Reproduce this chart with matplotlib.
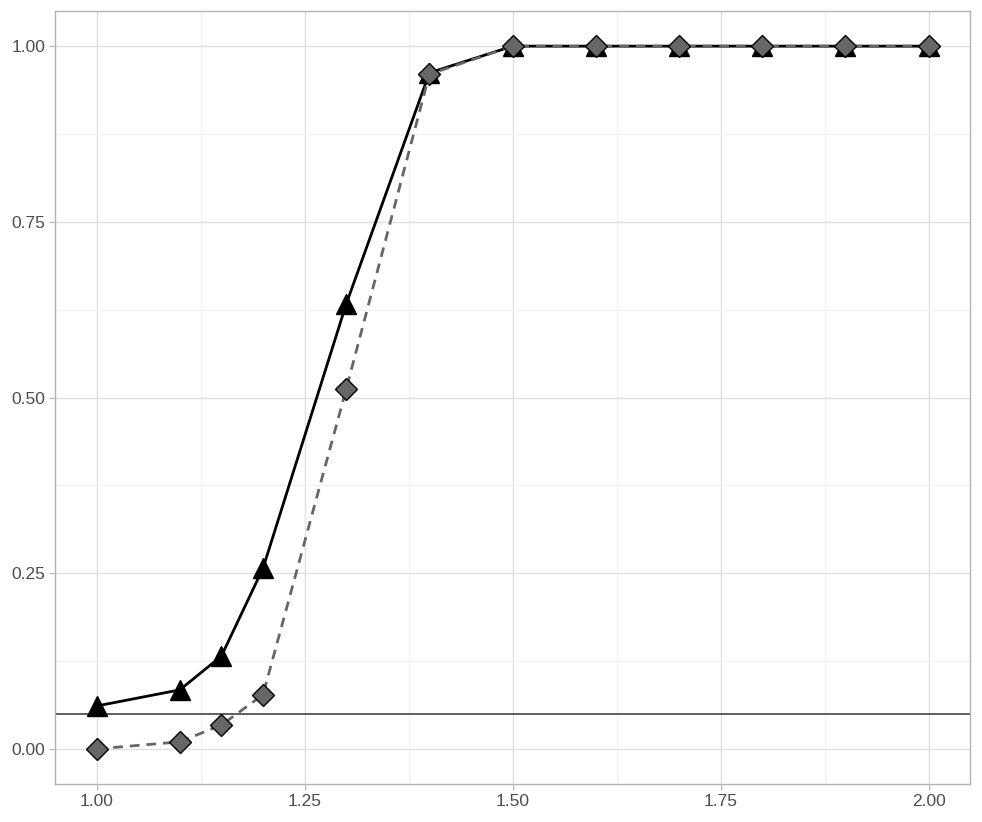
import matplotlib.pyplot as plt
from matplotlib.ticker import MultipleLocator

x = [1.0, 1.1, 1.15, 1.2, 1.3, 1.4, 1.5, 1.6, 1.7, 1.8, 1.9, 2.0]
power_a = [0.061, 0.084, 0.132, 0.257, 0.633, 0.962, 1.0, 1.0, 1.0, 1.0, 1.0, 1.0]
power_b = [0.0, 0.010, 0.034, 0.077, 0.512, 0.960, 1.0, 1.0, 1.0, 1.0, 1.0, 1.0]
alpha_level = 0.05
x_ticks = [1.00, 1.25, 1.50, 1.75, 2.00]
y_ticks = [0.00, 0.25, 0.50, 0.75, 1.00]

plt.rcParams["font.family"] = ["Liberation Sans", "DejaVu Sans"]

fig = plt.figure(figsize=(9.82, 8.22), dpi=100)
ax = fig.add_axes([0.056, 0.0462, 0.932, 0.9404])

ax.set_xlim(0.95, 2.05)
ax.set_ylim(-0.05, 1.05)
ax.set_xticks(x_ticks)
ax.set_yticks(y_ticks)
ax.set_xticklabels([f"{v:.2f}" for v in x_ticks])
ax.set_yticklabels([f"{v:.2f}" for v in y_ticks])
ax.xaxis.set_minor_locator(MultipleLocator(0.125))
ax.yaxis.set_minor_locator(MultipleLocator(0.125))

ax.grid(which="major", color="#e0e0e0", linewidth=1.0, zorder=0)
ax.grid(which="minor", color="#f0f0f0", linewidth=0.7, zorder=0)
ax.set_axisbelow(True)
ax.tick_params(which="major", color="#b3b3b3", length=4, width=0.8, pad=3,
               labelsize=12.5, labelcolor="#4d4d4d")
ax.tick_params(which="minor", length=0)
for s in ax.spines.values():
    s.set_color("#b3b3b3")
    s.set_linewidth(1.0)

ax.axhline(alpha_level, color="#333333", linewidth=1.1, zorder=2)

ax.plot(x, power_a, color="black", linewidth=2, marker="^", markersize=14,
        markerfacecolor="black", markeredgecolor="black", zorder=3)
ax.plot(x, power_b, color="#666666", linewidth=2, linestyle=(0, (3.5, 2.5)),
        marker="D", markersize=11, markerfacecolor="#666666",
        markeredgecolor="black", markeredgewidth=1.0, zorder=4)

fig.savefig("out.png", dpi=100)
